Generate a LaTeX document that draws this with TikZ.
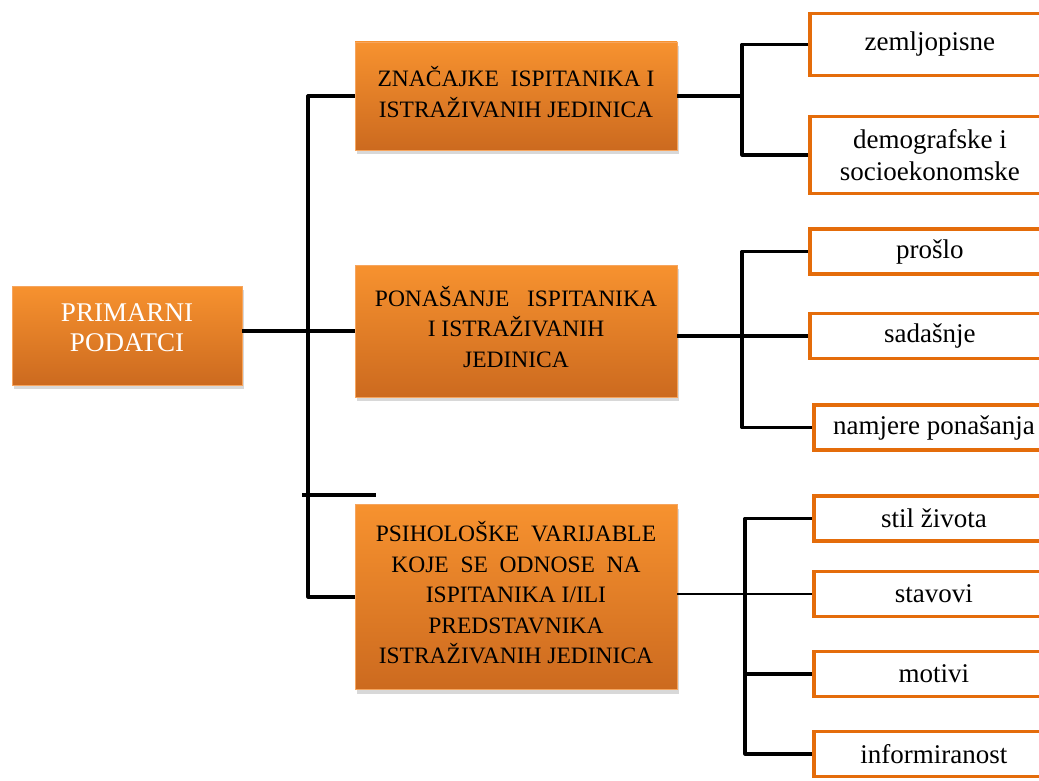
\documentclass[tikz,border=0pt]{standalone}
\usepackage{fontspec}
\setmainfont{Liberation Serif}
\usetikzlibrary{shadows,calc}
\definecolor{orTop}{HTML}{F7922F}
\definecolor{orBot}{HTML}{CC6A1F}
\definecolor{orEdge}{HTML}{F6A55E}
\definecolor{leafOr}{HTML}{E46C0A}
\tikzset{
  mainbox/.style={rectangle, top color=orTop, bottom color=orBot, draw=orEdge, line width=0.8pt,
    align=center, inner sep=2pt,
    drop shadow={opacity=0.3, shadow xshift=2pt, shadow yshift=-4pt}},
  midbox/.style={mainbox, minimum width=322pt, text=black,
    font=\fontsize{23.5}{30.5}\selectfont},
  leaf/.style={rectangle, anchor=west, draw=leafOr, fill=white, line width=3.8pt,
    minimum width=240pt, minimum height=45pt, align=center, inner sep=1pt,
    font=\fontsize{27}{32}\selectfont},
  conn/.style={line width=3.2pt, black, line join=round},
  thinconn/.style={line width=1.4pt, black}
}
\begin{document}
\begin{tikzpicture}[x=1pt,y=-1pt]
\clip (0,0) rectangle (1039,781);
\fill[white] (0,0) rectangle (1039,781);

\node[mainbox, minimum width=230pt, minimum height=99pt,
  label={[text=white, align=center, yshift=8pt, font=\fontsize{27}{30}\selectfont]center:PRIMARNI\\PODATCI}] (pd) at (127,335.5) {};
\node[midbox, minimum height=108pt] (b1) at (516,96) {ZNAČAJKE\ \ ISPITANIKA I\\ISTRAŽIVANIH JEDINICA\\[-22pt]};
\node[midbox, minimum height=132pt] (b2) at (516,331) {PONAŠANJE\ \ \ ISPITANIKA\\I ISTRAŽIVANIH\\JEDINICA\\[-22pt]};
\node[midbox, minimum height=185pt] (b3) at (516,597) {PSIHOLOŠKE\ \ VARIJABLE\\KOJE\ \ SE\ \ ODNOSE\ \ NA\\ISPITANIKA I/ILI\\PREDSTAVNIKA\\ISTRAŽIVANIH JEDINICA\\[-22pt]};

\node[leaf, minimum height=62pt] (l1) at (808,44.5) {zemljopisne};
\node[leaf, minimum height=77pt] (l2) at (808,155) {demografske i\\socioekonomske};
\node[leaf] (l3) at (808,251.5) {prošlo};
\node[leaf] (l4) at (808,336) {sadašnje};
\node[leaf] (l5) at (812,427.5) {namjere ponašanja};
\node[leaf] (l6) at (812,518.5) {stil života};
\node[leaf] (l7) at (812,594) {stavovi};
\node[leaf] (l8) at (812,674) {motivi};
\node[leaf] (l9) at (812,754) {informiranost};

\coordinate (tr) at (308,331);
\coordinate (j1) at (742,96);
\coordinate (j2) at (742,336);
\coordinate (j3) at (745,594);
\coordinate (tk1) at (302,495);
\coordinate (tk2) at (376,495);

\draw[conn] (pd.east |- tr) -- (b2.west |- tr);
\draw[conn] (b1.west) -| (tr) |- (b3.west);
\draw[conn] (tk1) -- (tk2);
\draw[conn] (b1.east) -- (j1);
\draw[conn] (j1) |- (l1.west);
\draw[conn] (j1) |- (l2.west);
\draw[conn] (b2.east |- l4.west) -- (l4.west);
\draw[conn] (j2) |- (l3.west);
\draw[conn] (j2) |- (l5.west);
\draw[thinconn] (b3.east |- l7.west) -- (l7.west);
\draw[conn] (j3) |- (l6.west);
\draw[conn] (j3) |- (l8.west);
\draw[conn] (j3) |- (l9.west);
\end{tikzpicture}
\end{document}
